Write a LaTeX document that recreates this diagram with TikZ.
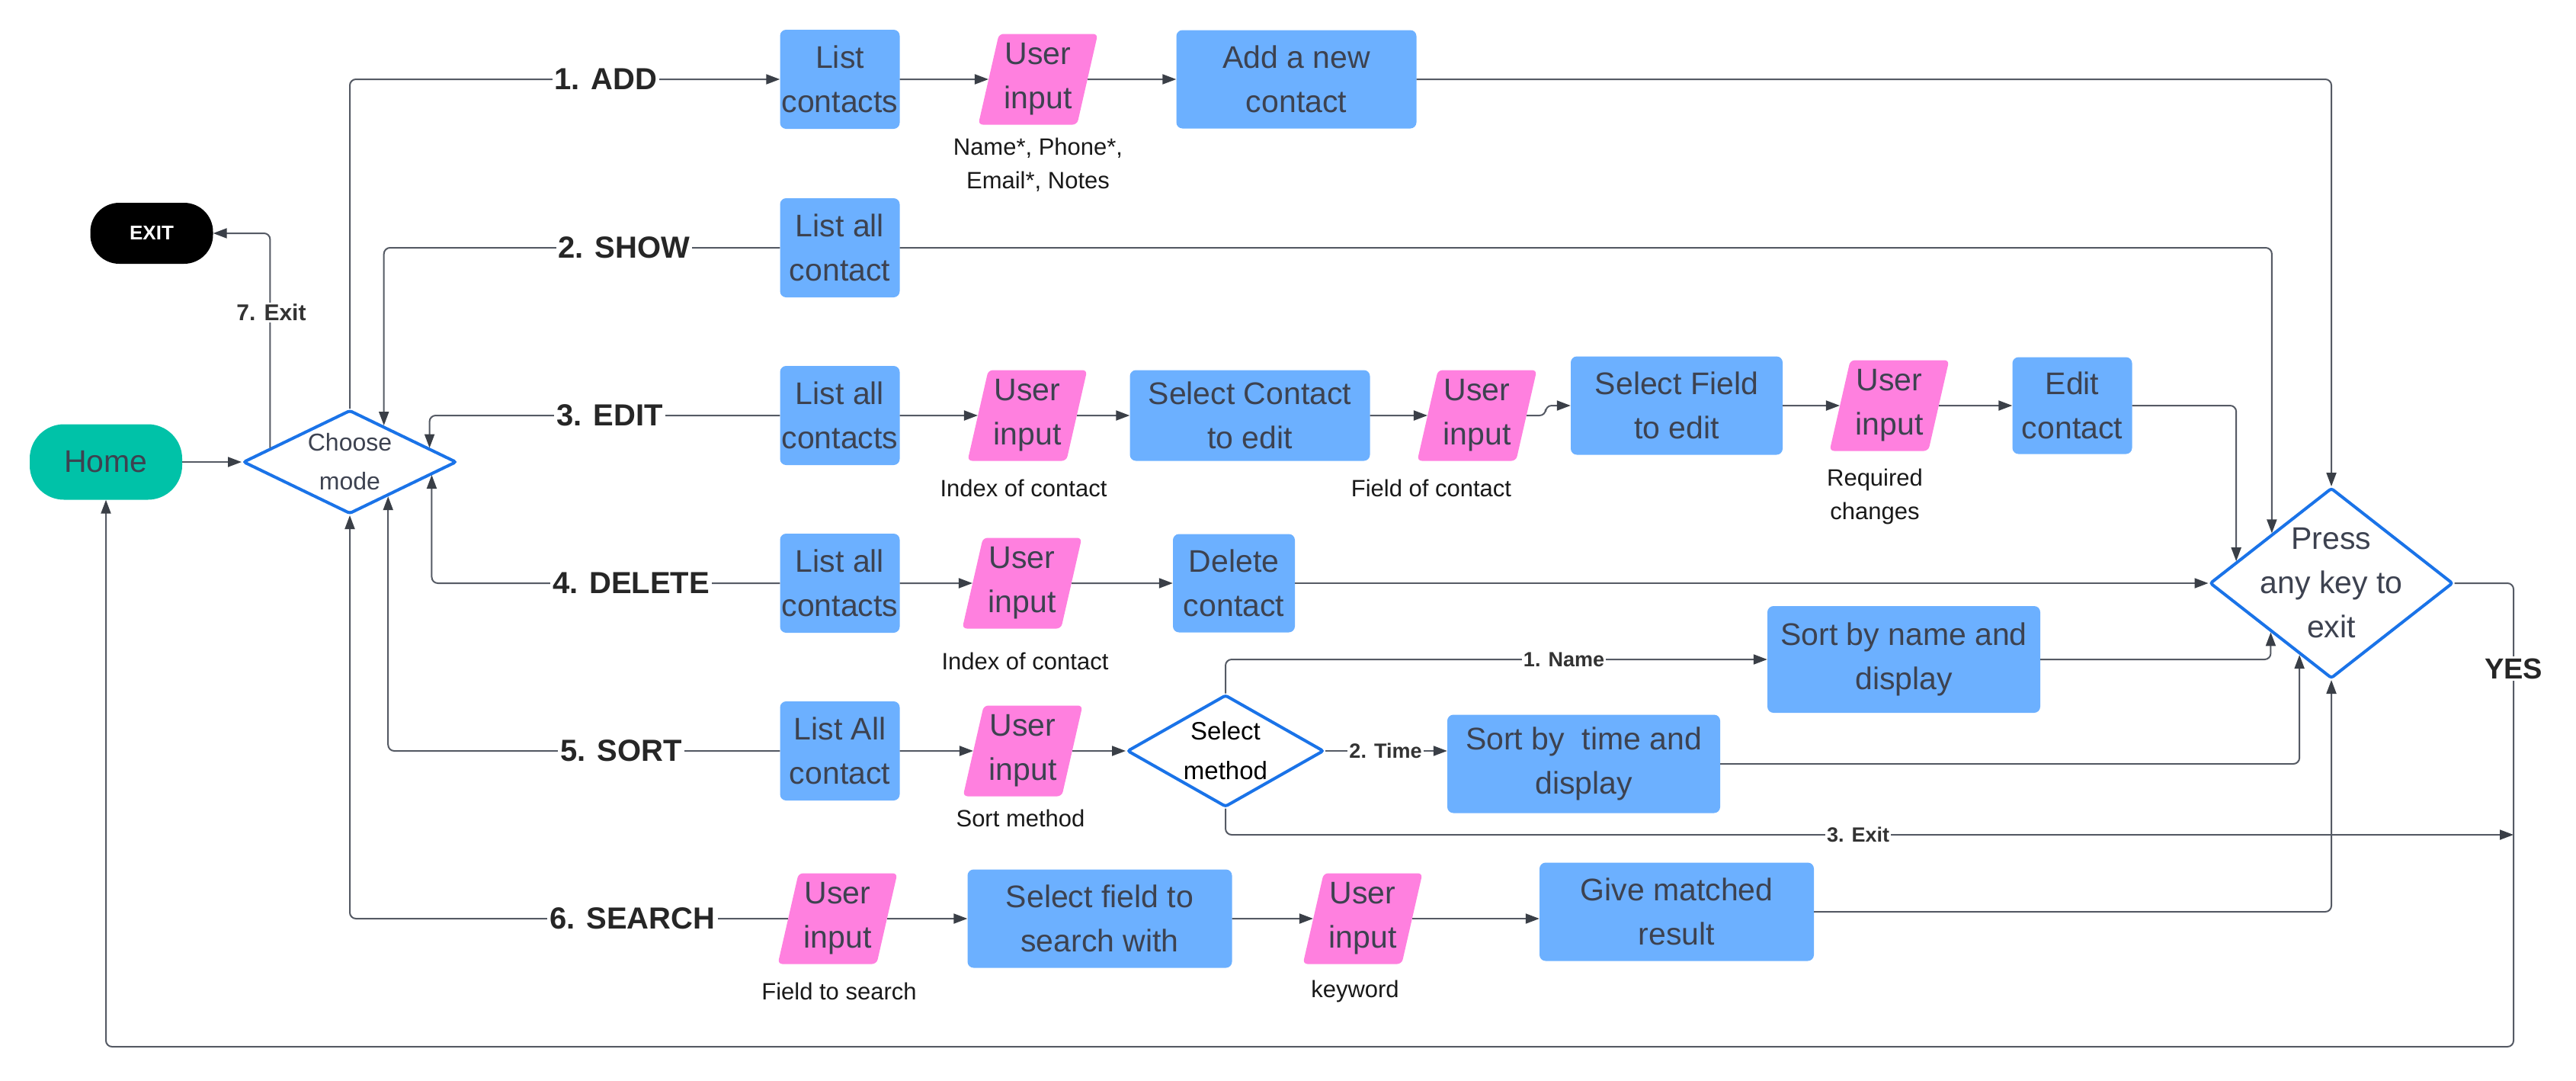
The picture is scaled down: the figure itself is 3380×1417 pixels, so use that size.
\documentclass[tikz,border=0pt]{standalone}
\usepackage{fontspec}
\setmainfont{Liberation Sans}
\usetikzlibrary{shapes.geometric,arrows.meta}
\definecolor{boxblue}{HTML}{6CB0FF}
\definecolor{inpink}{HTML}{FF80DF}
\definecolor{hometeal}{HTML}{00C2A8}
\definecolor{dmdblue}{HTML}{1A73E8}
\definecolor{txtgray}{HTML}{3D4250}
\definecolor{linegray}{HTML}{555A64}
\definecolor{tipgray}{HTML}{3A3F47}

\begin{document}
\begin{tikzpicture}[x=1pt,y=-1pt,
		boxtxt/.style={font=\fontsize{41}{58}\selectfont, text=txtgray, align=center},
		proc/.style={boxtxt, fill=boxblue, rounded corners=8pt, inner sep=0pt},
		userin/.style={boxtxt, trapezium, trapezium left angle=76, trapezium right angle=104, trapezium stretches=true, fill=inpink, rounded corners=6pt, inner sep=0pt, minimum width=157pt, minimum height=119pt},
		choice/.style={diamond, draw=dmdblue, fill=white, line width=4pt, rounded corners=3pt, inner sep=0pt},
		note/.style={font=\fontsize{31}{44}\selectfont, align=center, text=black!90},
		optlbl/.style={font=\fontsize{40}{48}\selectfont\bfseries, text=black!85, fill=white, inner sep=3pt},
		smlbl/.style={font=\fontsize{27}{32}\selectfont\bfseries, text=black!80, fill=white, inner sep=2pt},
		conn/.style={draw=linegray, line width=2pt, rounded corners=8pt},
		arr/.style={conn, -{Triangle[length=18pt,width=13pt,color=tipgray]}}
	]
	\useasboundingbox (0,0) rectangle (3380,1417);

	\node[fill=hometeal, rounded corners=45pt, minimum width=200pt, minimum height=99pt, font=\fontsize{41}{48}\selectfont, text=txtgray] (home) at (139,606) {Home};
	\node[fill=black, text=white, rounded corners=38pt, minimum width=161pt, minimum height=80pt, font=\fontsize{26}{30}\selectfont\bfseries] (exitn) at (199,306) {EXIT};
	\node[choice, minimum width=280pt, minimum height=136pt] (cm) at (459,606) {};
	\node[font=\fontsize{32}{51}\selectfont, text=txtgray, align=center] (cmtxt) at (cm) {Choose\\mode};

	% 1. ADD
	\node[proc, minimum width=157pt, minimum height=130pt] (lc1) at (1102,104) {List\\contacts};
	\node[userin] (ui1) at (1362,104) {User\\input};
	\node[proc, minimum width=315pt, minimum height=129pt] (anc) at (1701,104) {Add a new\\contact};
	\node[note] (n1) at (1362,216) {Name*, Phone*,\\Email*, Notes};

	% 2. SHOW
	\node[proc, minimum width=157pt, minimum height=130pt] (ls2) at (1102,325) {List all\\contact};

	% 3. EDIT
	\node[proc, minimum width=157pt, minimum height=130pt] (ls3) at (1102,545) {List all\\contacts};
	\node[userin] (ui3a) at (1348,545) {User\\input};
	\node[proc, minimum width=315pt, minimum height=119pt] (scte) at (1640,545) {Select Contact\\to edit};
	\node[userin] (ui3b) at (1938,545) {User\\input};
	\node[proc, minimum width=278pt, minimum height=129pt] (sfe) at (2200,532) {Select Field\\to edit};
	\node[userin] (ui3c) at (2479,532) {User\\input};
	\node[proc, minimum width=157pt, minimum height=127pt] (edc) at (2719,532) {Edit\\contact};
	\node[note] (n3a) at (1343,640) {Index of contact};
	\node[note] (n3b) at (1878,640) {Field of contact};
	\node[note] (n3c) at (2460,651) {Required\\changes};

	% 4. DELETE
	\node[proc, minimum width=157pt, minimum height=130pt] (ls4) at (1102,765) {List all\\contacts};
	\node[userin] (ui4) at (1341,765) {User\\input};
	\node[proc, minimum width=160pt, minimum height=129pt] (dlc) at (1619,765) {Delete\\contact};
	\node[note] (n4) at (1345,867) {Index of contact};

	% 5. SORT
	\node[proc, minimum width=157pt, minimum height=130pt] (ls5) at (1102,985) {List All\\contact};
	\node[userin] (ui5) at (1342,985) {User\\input};
	\node[choice, minimum width=258pt, minimum height=147pt] (sm) at (1608,985) {};
	\node[font=\fontsize{33}{52}\selectfont, text=black, align=center] (smtxt) at (sm) {Select\\method};
	\node[proc, minimum width=358pt, minimum height=140pt] (sname) at (2498,865) {Sort by name and\\display};
	\node[proc, minimum width=358pt, minimum height=129pt] (stime) at (2078,1002) {Sort by~ time and\\display};
	\node[note] (n5) at (1339,1073) {Sort method};

	% 6. SEARCH
	\node[userin] (ui6) at (1099,1205) {User\\input};
	\node[proc, minimum width=347pt, minimum height=129pt] (sfs) at (1443,1205) {Select field to\\search with};
	\node[userin] (ui6b) at (1788,1205) {User\\input};
	\node[proc, minimum width=360pt, minimum height=129pt] (gmr) at (2200,1196) {Give matched\\result};
	\node[note] (n6a) at (1101,1300) {Field to search};
	\node[note] (n6b) at (1778,1300) {keyword};

	\node[choice, minimum width=319pt, minimum height=250pt] (press) at (3059,765) {};
	\node[boxtxt] (presstxt) at (press) {Press\\any key to\\exit};
	\coordinate (loop) at (3298,1373);
	\coordinate (exit3) at (3298,1095);

	\draw[arr] (home.east) -- (cm.west);
	\draw[arr] (cm.170.4) |- (exitn.east);
	\draw[arr] (cm.north) |- (lc1.west);
	\draw[arr] (ls2.west) -| (cm.47.5);
	\draw[arr] (ls3.west) -| (cm.10.7);
	\draw[arr] (ls4.west) -| (cm.351.5);
	\draw[arr] (ls5.west) -| (cm.318);
	\draw[arr] (ui6.west) -| (cm.south);

	\draw[arr] (lc1.east) -- (ui1.west);
	\draw[arr] (ui1.east) -- (anc.west);
	\draw[arr] (anc.east) -| (press.north);
	\draw[arr] (ls2.east) -| (press.140.6);

	\draw[arr] (ls3.east) -- (ui3a.west);
	\draw[arr] (ui3a.east) -- (scte.west);
	\draw[arr] (scte.east) -- (ui3b.west);
	\draw[arr] (ui3b.east) -- ++(25,0) |- (sfe.west);
	\draw[arr] (sfe.east) -- (ui3c.west);
	\draw[arr] (ui3c.east) -- (edc.west);
	\draw[arr] (edc.east) -| (press.167.8);

	\draw[arr] (ls4.east) -- (ui4.west);
	\draw[arr] (ui4.east) -- (dlc.west);
	\draw[arr] (dlc.east) -- (press.west);

	\draw[arr] (ls5.east) -- (ui5.west);
	\draw[arr] (ui5.east) -- (sm.west);
	\draw[arr] (sm.north) |- (sname.west);
	\draw[arr] (sm.east) -- (sm.east -| stime.west);
	\draw[arr] (sm.south) |- (exit3);
	\draw[arr] (sname.east) -| (press.219.4);
	\draw[arr] (stime.east) -| (press.246.2);

	\draw[arr] (ui6.east) -- (sfs.west);
	\draw[arr] (sfs.east) -- (ui6b.west);
	\draw[arr] (ui6b.east) -- (ui6b.east -| gmr.west);
	\draw[arr] (gmr.east) -| (press.south);

	\draw[arr] (press.east) -| (loop) -| (home.south);

	\node[optlbl] (o1) at (795,104) {1. ADD};
	\node[optlbl] (o2) at (819,325) {2. SHOW};
	\node[optlbl] (o3) at (800,545) {3. EDIT};
	\node[optlbl] (o4) at (828,765) {4. DELETE};
	\node[optlbl] (o5) at (815,985) {5. SORT};
	\node[optlbl] (o6) at (830,1205) {6. SEARCH};
	\node[smlbl, font=\fontsize{30}{36}\selectfont\bfseries] (o7) at (356,410) {7. Exit};
	\node[smlbl] (l1) at (2052,865) {1. Name};
	\node[smlbl] (l2) at (1818,985) {2. Time};
	\node[smlbl] (l3) at (2438,1095) {3. Exit};
	\node[optlbl, font=\fontsize{38}{44}\selectfont\bfseries] (yes) at (3298,877) {YES};
\end{tikzpicture}
\end{document}
